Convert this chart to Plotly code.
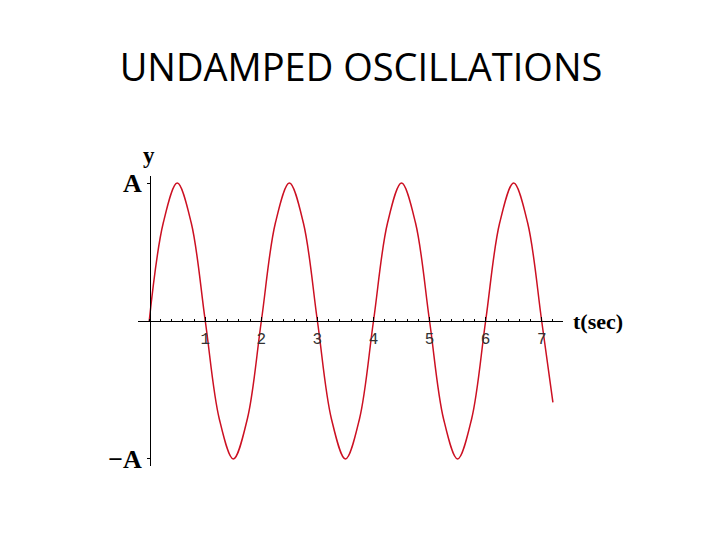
import plotly.graph_objects as go

# time values (s) and displacement (in units of amplitude A)
t_vals = [0.0, 0.25, 0.5, 0.75, 1.0, 1.25, 1.5, 1.75, 2.0, 2.25, 2.5, 2.75,
          3.0, 3.25, 3.5, 3.75, 4.0, 4.25, 4.5, 4.75, 5.0, 5.25, 5.5, 5.75,
          6.0, 6.25, 6.5, 6.75, 7.0, 7.2]
y_vals = [0.0, 0.71, 1.0, 0.71, 0.0, -0.71, -1.0, -0.71, 0.0, 0.71, 1.0, 0.71,
          0.0, -0.71, -1.0, -0.71, 0.0, 0.71, 1.0, 0.71, 0.0, -0.71, -1.0, -0.71,
          0.0, 0.71, 1.0, 0.71, 0.0, -0.59]
x_tick_vals = [1, 2, 3, 4, 5, 6, 7]
x_tick_text = ["1", "2", "3", "4", "5", "6", "7"]
y_tick_vals = [-1, 1]
y_tick_text = ["\u2212A", "A"]

# plot-area geometry (pixels)
L, T, W, H = 130, 168, 425, 290
X0_PX, Y0_PX = 142, 313  # where the axes cross, in this layout

fig = go.Figure()
fig.add_trace(go.Scatter(
    x=t_vals, y=y_vals, mode="lines",
    line=dict(color="#cc1022", width=1.5, shape="spline", smoothing=1.0),
    hoverinfo="skip", showlegend=False,
))

serif = "Liberation Serif, Times New Roman, serif"

fig.update_layout(
    width=720, height=540,
    paper_bgcolor="white", plot_bgcolor="white",
    margin=dict(l=L, r=720 - L - W, t=T, b=540 - T - H, pad=0, autoexpand=False),
    title=dict(text="UNDAMPED OSCILLATIONS", x=353 / 720, xanchor="center",
               y=1 - 60 / 540, yanchor="middle", xref="container", yref="container",
               font=dict(family="Open Sans, sans-serif", size=38, color="black")),
    xaxis=dict(
        range=[-0.2, 7.38], anchor="free", position=(T + H - Y0_PX) / H,
        automargin=False,
        showline=True, linecolor="black", linewidth=1,
        showgrid=False, zeroline=False,
        tickmode="array", tickvals=x_tick_vals, ticktext=x_tick_text,
        ticks="inside", ticklen=4, tickcolor="black",
        ticklabelstandoff=3,
        tickfont=dict(family="Liberation Mono, monospace", size=16, color="#333333"),
        minor=dict(tickmode="linear", tick0=0, dtick=0.2, ticks="inside",
                   ticklen=2, tickcolor="black"),
    ),
    yaxis=dict(
        range=[-1.051, 1.051], anchor="free", position=(X0_PX - L) / W,
        automargin=False,
        showline=True, linecolor="black", linewidth=1,
        showgrid=False, zeroline=False,
        tickmode="array", tickvals=y_tick_vals, ticktext=y_tick_text,
        ticks="outside", ticklen=3, tickcolor="black",
        tickfont=dict(family=serif, size=26, color="black", weight="bold"),
    ),
)

fig.add_annotation(text="y", xref="x", yref="paper", x=0, y=(T + H - 147) / H,
                   showarrow=False, xanchor="center", yanchor="middle",
                   font=dict(family=serif, size=23, color="black", weight="bold"))
fig.add_annotation(text="t(sec)", xref="paper", yref="y", x=(590 - L) / W, y=0,
                   showarrow=False, xanchor="center", yanchor="middle",
                   font=dict(family=serif, size=22, color="black", weight="bold"))

fig.write_html("out.html")
